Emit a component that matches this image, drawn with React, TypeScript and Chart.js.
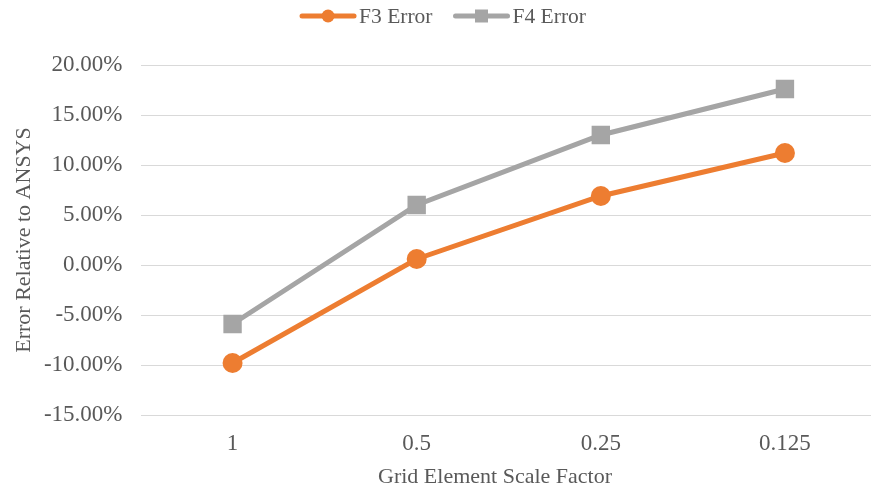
import React, { useEffect, useRef } from "react";
import { Chart, registerables } from "chart.js";

Chart.register(...registerables);

const categories = ["1", "0.5", "0.25", "0.125"];
const f3Error = [-9.8, 0.6, 6.9, 11.2];
const f4Error = [-5.9, 6.0, 13.0, 17.6];
const yTicksMin = -15;
const yTicksMax = 20;
const yStep = 5;

const ORANGE = "#ED7D31";
const GRAY = "#A5A5A5";
const TEXT = "#595959";
const FONT = '"Liberation Serif", "Times New Roman", serif';

const legendPlugin = {
  id: "lineMarkerLegend",
  afterDraw(chart: any) {
    const ctx = chart.ctx as CanvasRenderingContext2D;
    const items = chart.data.datasets.map((d: any) => ({
      label: d.label,
      color: d.borderColor,
      style: d.pointStyle,
    }));
    ctx.save();
    ctx.font = `21.5px ${FONT}`;
    const lineLen = 52;
    const gapText = 5;
    const gapItem = 23;
    const widths = items.map((it: any) => lineLen + gapText + ctx.measureText(it.label).width);
    const total = widths.reduce((a: number, b: number) => a + b, 0) + gapItem * (items.length - 1);
    let x = 444 - total / 2;
    const y = 16;
    items.forEach((it: any, i: number) => {
      ctx.strokeStyle = it.color;
      ctx.lineWidth = 5;
      ctx.lineCap = "round";
      ctx.beginPath();
      ctx.moveTo(x, y);
      ctx.lineTo(x + lineLen, y);
      ctx.stroke();
      ctx.fillStyle = it.color;
      const cx = x + lineLen / 2;
      if (it.style === "circle") {
        ctx.beginPath();
        ctx.arc(cx, y, 6.5, 0, Math.PI * 2);
        ctx.fill();
      } else {
        ctx.fillRect(cx - 6.5, y - 6.5, 13, 13);
      }
      ctx.fillStyle = TEXT;
      ctx.textAlign = "left";
      ctx.textBaseline = "middle";
      ctx.fillText(it.label, x + lineLen + gapText, y + 1);
      x += widths[i] + gapItem;
    });
    ctx.restore();
  },
};

export default function App() {
  const ref = useRef<HTMLCanvasElement>(null);
  useEffect(() => {
    if (!ref.current) return;
    const chart = new Chart(ref.current, {
      type: "line",
      data: {
        labels: categories,
        datasets: [
          {
            label: "F3 Error",
            data: f3Error,
            borderColor: ORANGE,
            backgroundColor: ORANGE,
            borderWidth: 5,
            pointStyle: "circle",
            pointRadius: 10,
            pointBorderWidth: 0,
            tension: 0,
          },
          {
            label: "F4 Error",
            data: f4Error,
            borderColor: GRAY,
            backgroundColor: GRAY,
            borderWidth: 5,
            pointStyle: "rect",
            pointRadius: 13,
            pointBorderWidth: 0,
            tension: 0,
          },
        ],
      },
      options: {
        responsive: false,
        animation: false,
        layout: { padding: { top: 65, right: 9.5, bottom: 0, left: 0 } },
        plugins: { legend: { display: false }, tooltip: { enabled: false } },
        scales: {
          x: {
            type: "category",
            offset: true,
            grid: { display: false, drawTicks: false },
            border: { display: false },
            ticks: { color: TEXT, font: { family: FONT, size: 23 }, padding: 15.2 },
            title: {
              display: true,
              text: "Grid Element Scale Factor     ",
              color: TEXT,
              font: { family: FONT, size: 22 },
              padding: { top: 0, bottom: 0.8 },
            },
            afterFit: (s: any) => {
              s.height = 76;
            },
          },
          y: {
            min: yTicksMin,
            max: yTicksMax,
            ticks: {
              stepSize: yStep,
              color: TEXT,
              font: { family: FONT, size: 23 },
              padding: 18,
              callback: (v: any) => Number(v).toFixed(2) + "%",
            },
            grid: { color: "#D9D9D9", lineWidth: 1, drawTicks: false },
            border: { display: false },
            title: {
              display: true,
              text: "Error Relative to ANSYS",
              color: TEXT,
              font: { family: FONT, size: 22 },
              padding: { top: 11.3, bottom: 0 },
            },
            afterFit: (s: any) => {
              s.width = 140.5;
            },
          },
        },
      },
      plugins: [legendPlugin],
    });
    return () => chart.destroy();
  }, []);
  return (
    <div style={{ position: "fixed", left: 0, top: 0, width: 871, height: 491, overflow: "hidden", background: "#fff" }}>
      <canvas ref={ref} width={890} height={491} style={{ width: 890, height: 491, display: "block" }} />
    </div>
  );
}
